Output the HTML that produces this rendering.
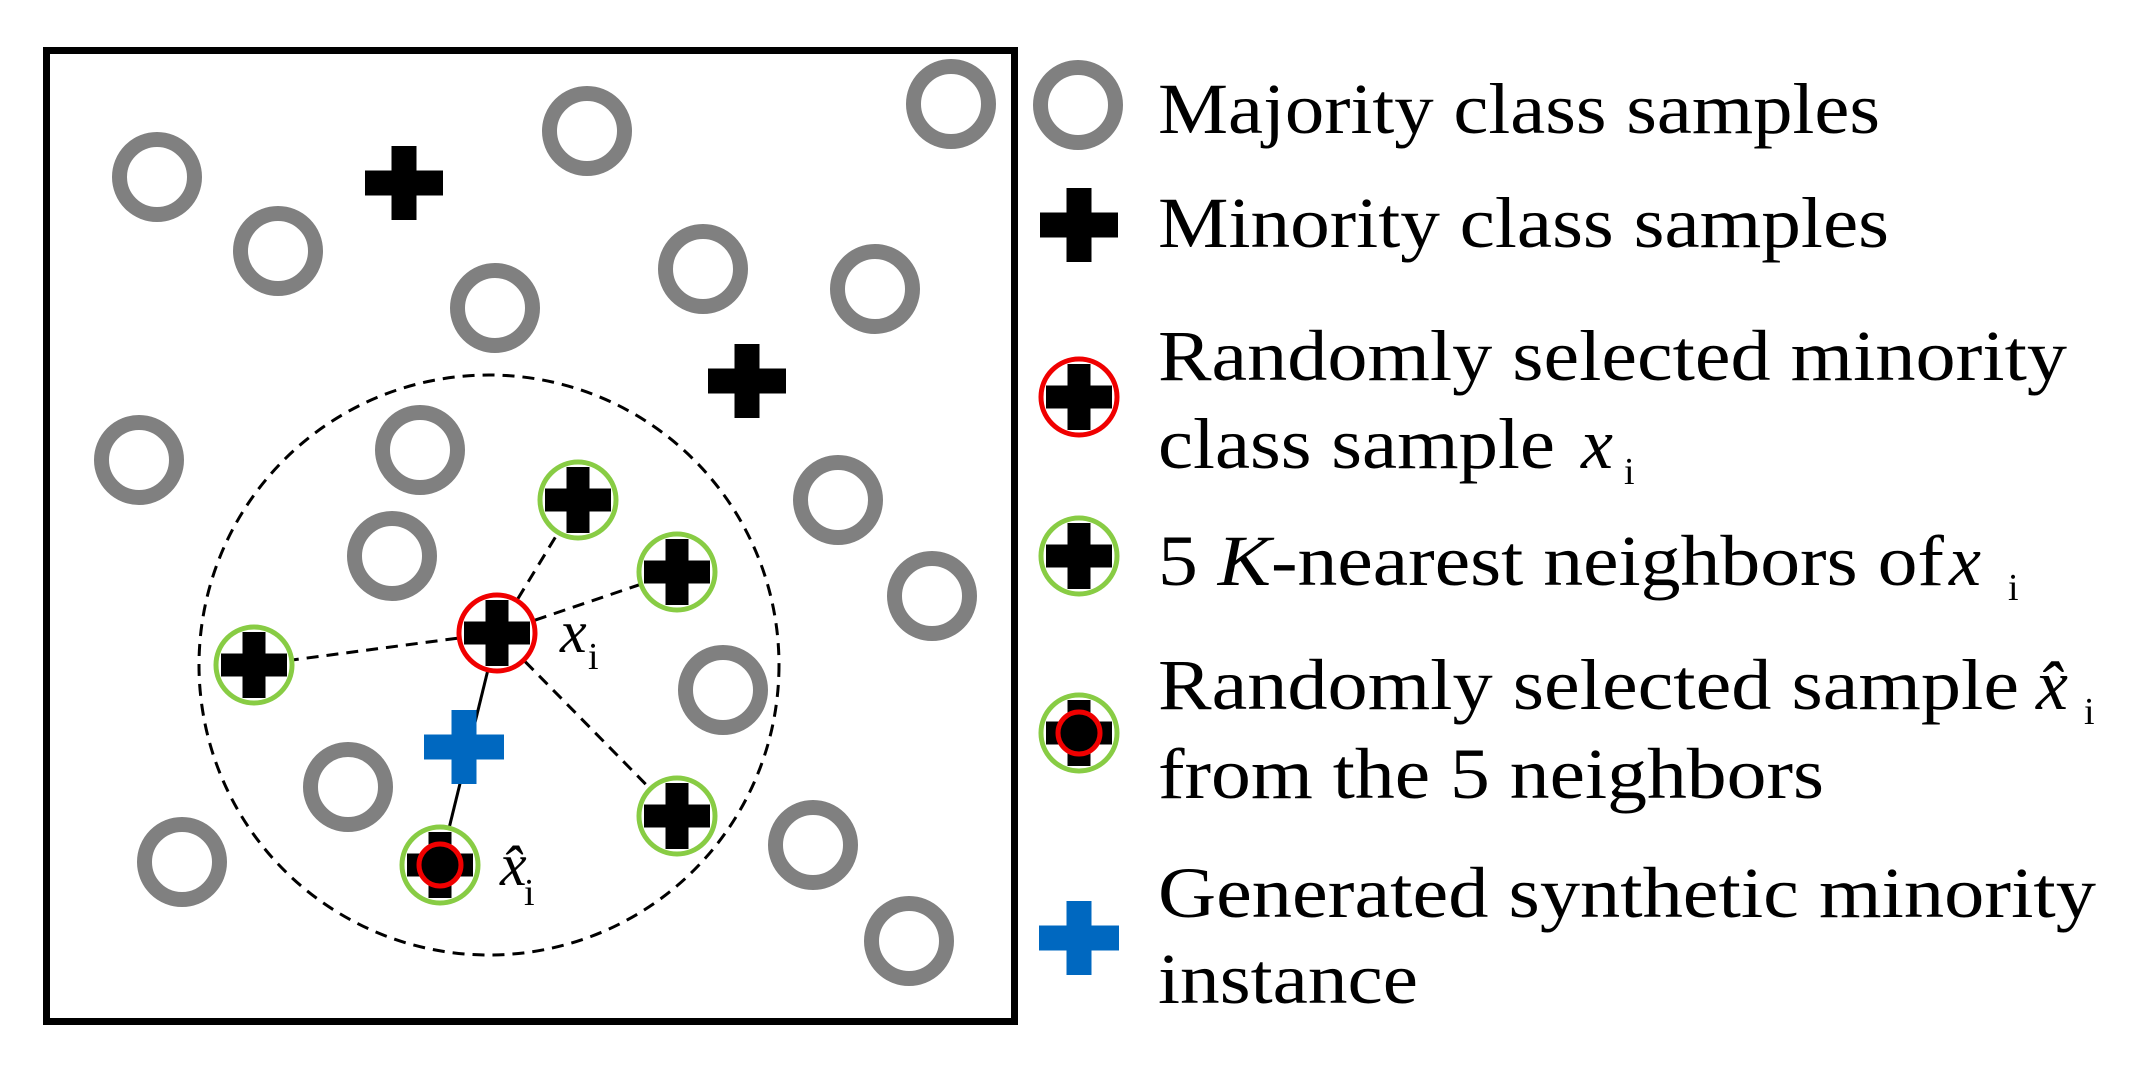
<!DOCTYPE html>
<html><head><meta charset="utf-8"><style>
html,body{margin:0;padding:0;background:#fff;}
svg{display:block;}
text{font-family:"Liberation Serif",serif;fill:#000;}
</style></head><body>
<svg width="2154" height="1074" viewBox="0 0 2154 1074" xmlns="http://www.w3.org/2000/svg">
<defs>
  <g id="bc"><rect x="-39" y="-12.5" width="78" height="25" fill="#000"/><rect x="-12.5" y="-37" width="25" height="74" fill="#000"/></g>
  <g id="ic"><rect x="-33" y="-11.5" width="66" height="23" fill="#000"/><rect x="-11.5" y="-33" width="23" height="66" fill="#000"/></g>
  <g id="blue"><rect x="-40" y="-12.5" width="80" height="25" fill="#0068c0"/><rect x="-12.5" y="-37" width="25" height="74" fill="#0068c0"/></g>
  <circle id="maj" r="37.5" fill="none" stroke="#808080" stroke-width="15"/>
  <g id="red"><circle r="38" fill="#fff"/><use href="#ic"/><circle r="38" fill="none" stroke="#f00000" stroke-width="5"/></g>
  <g id="grn"><circle r="38" fill="#fff"/><use href="#ic"/><circle r="38" fill="none" stroke="#88cc44" stroke-width="5"/></g>
  <g id="hat"><circle r="38" fill="#fff"/><use href="#ic"/><circle r="21" fill="#000" stroke="#f00000" stroke-width="5"/><circle r="38" fill="none" stroke="#88cc44" stroke-width="5"/></g>
</defs>

<rect x="46.5" y="50.5" width="968" height="971" fill="none" stroke="#000" stroke-width="7"/>

<use href="#maj" x="157" y="177"/>
<use href="#maj" x="278" y="251"/>
<use href="#maj" x="587" y="131"/>
<use href="#maj" x="951" y="104"/>
<use href="#maj" x="495" y="308"/>
<use href="#maj" x="703" y="269"/>
<use href="#maj" x="875" y="289"/>
<use href="#maj" x="139" y="460"/>
<use href="#maj" x="420" y="450"/>
<use href="#maj" x="392" y="556"/>
<use href="#maj" x="838" y="500"/>
<use href="#maj" x="932" y="596"/>
<use href="#maj" x="723" y="690"/>
<use href="#maj" x="348" y="787"/>
<use href="#maj" x="182" y="862"/>
<use href="#maj" x="813" y="845"/>
<use href="#maj" x="909" y="941"/>

<use href="#bc" x="404" y="183"/>
<use href="#bc" x="747" y="381"/>

<circle cx="489" cy="665" r="290" fill="none" stroke="#000" stroke-width="3" stroke-dasharray="12 8"/>

<g stroke="#000" stroke-width="3" stroke-dasharray="12 8">
  <line x1="497" y1="633" x2="578" y2="500"/>
  <line x1="497" y1="633" x2="677" y2="572"/>
  <line x1="497" y1="633" x2="254" y2="665"/>
  <line x1="497" y1="633" x2="677" y2="816"/>
</g>
<line x1="497" y1="633" x2="440" y2="865" stroke="#000" stroke-width="3"/>

<use href="#grn" x="578" y="500"/>
<use href="#grn" x="677" y="572"/>
<use href="#grn" x="254" y="665"/>
<use href="#grn" x="677" y="816"/>
<use href="#red" x="497" y="633"/>
<use href="#blue" x="464" y="747"/>
<use href="#hat" x="440" y="865"/>

<text x="560" y="652" font-size="60" font-style="italic">x</text>
<text x="588" y="669" font-size="38">i</text>
<text x="500" y="885" font-size="60" font-style="italic">x̂</text>
<text x="524" y="905" font-size="38">i</text>

<use href="#maj" x="1078" y="105"/>
<use href="#bc" x="1079" y="225"/>
<use href="#red" x="1079" y="397"/>
<use href="#grn" x="1079" y="556"/>
<use href="#hat" x="1079" y="733"/>
<use href="#blue" x="1079" y="938"/>

<g font-size="72">
<text x="1158" y="133" textLength="722" lengthAdjust="spacingAndGlyphs">Majority class samples</text>
<text x="1158" y="247" textLength="731" lengthAdjust="spacingAndGlyphs">Minority class samples</text>
<text x="1158" y="380" textLength="909" lengthAdjust="spacingAndGlyphs">Randomly selected minority</text>
<text x="1158" y="468" textLength="397" lengthAdjust="spacingAndGlyphs">class sample</text>
<text x="1581" y="468" font-style="italic">x</text>
<text x="1158" y="585" textLength="786" lengthAdjust="spacingAndGlyphs">5 <tspan font-style="italic">K</tspan>-nearest neighbors of</text>
<text x="1949" y="585" font-style="italic">x</text>
<text x="2008" y="600" font-size="38">i</text>
<text x="1158" y="709" textLength="861" lengthAdjust="spacingAndGlyphs">Randomly selected sample</text>
<text x="2036" y="709" font-style="italic">x̂</text>
<text x="2084" y="724" font-size="38">i</text>
<text x="1158" y="798" textLength="666" lengthAdjust="spacingAndGlyphs">from the 5 neighbors</text>
<text x="1158" y="917" textLength="938" lengthAdjust="spacingAndGlyphs">Generated synthetic minority</text>
<text x="1158" y="1003" textLength="260" lengthAdjust="spacingAndGlyphs">instance</text>
</g>
<text x="1624" y="484" font-size="38">i</text>
</svg>
</body></html>
